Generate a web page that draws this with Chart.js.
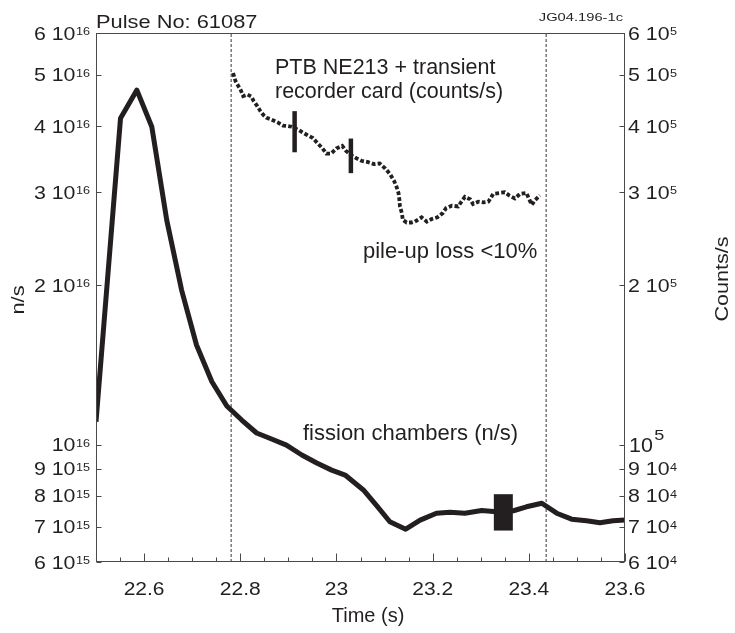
<!DOCTYPE html>
<html>
<head>
<meta charset="utf-8">
<script src="https://cdn.jsdelivr.net/npm/chart.js@4.4.0/dist/chart.umd.min.js"></script>
<style>
  html, body { margin: 0; padding: 0; background: #fff; }
  #wrap { width: 735px; height: 633px; }
</style>
</head>
<body>
<div id="wrap"><canvas id="chart"></canvas></div>
<script>
// fission chambers (n/s), left axis
const fissionTime = [22.500, 22.551, 22.585, 22.616, 22.647, 22.678, 22.709, 22.741, 22.772, 22.803,
  22.834, 22.865, 22.896, 22.928, 22.959, 22.990, 23.018, 23.056, 23.084, 23.111,
  23.144, 23.174, 23.208, 23.236, 23.267, 23.302, 23.333, 23.368, 23.395, 23.427,
  23.458, 23.489, 23.520, 23.548, 23.575, 23.600];
const fissionRate = [1.105e16, 4.14e16, 4.68e16, 3.99e16, 2.66e16, 1.96e16, 1.543e16, 1.315e16, 1.183e16, 1.113e16,
  1.052e16, 1.025e16, 9.98e15, 9.56e15, 9.23e15, 8.95e15, 8.76e15, 8.21e15, 7.66e15, 7.15e15,
  6.92e15, 7.20e15, 7.42e15, 7.45e15, 7.42e15, 7.51e15, 7.47e15, 7.50e15, 7.63e15, 7.75e15,
  7.42e15, 7.23e15, 7.18e15, 7.12e15, 7.18e15, 7.20e15];

// PTB NE213 + transient recorder card (counts/s), right axis
const ptbTime = [22.785, 22.790, 22.795, 22.801, 22.806, 22.815, 22.823, 22.828, 22.835, 22.842,
  22.848, 22.854, 22.864, 22.877, 22.889, 22.899, 22.907, 22.920, 22.930, 22.941,
  22.951, 22.960, 22.970, 22.979, 22.989, 23.000, 23.012, 23.020, 23.030, 23.041,
  23.052, 23.066, 23.078, 23.090, 23.101, 23.111, 23.120, 23.125, 23.129, 23.131,
  23.132, 23.136, 23.138, 23.146, 23.156, 23.163, 23.177, 23.188, 23.198, 23.210,
  23.221, 23.228, 23.240, 23.253, 23.260, 23.267, 23.278, 23.284, 23.295, 23.305,
  23.316, 23.326, 23.338, 23.350, 23.359, 23.371, 23.382, 23.395, 23.406, 23.413, 23.423];
const ptbRate = [5.04e5, 4.87e5, 4.78e5, 4.68e5, 4.56e5, 4.59e5, 4.55e5, 4.46e5, 4.37e5, 4.27e5,
  4.20e5, 4.15e5, 4.12e5, 4.07e5, 4.01e5, 4.00e5, 3.99e5, 3.94e5, 3.89e5, 3.84e5,
  3.80e5, 3.72e5, 3.64e5, 3.55e5, 3.55e5, 3.63e5, 3.67e5, 3.59e5, 3.53e5, 3.48e5,
  3.44e5, 3.42e5, 3.39e5, 3.40e5, 3.33e5, 3.25e5, 3.15e5, 3.07e5, 2.99e5, 2.90e5,
  2.82e5, 2.74e5, 2.66e5, 2.63e5, 2.63e5, 2.64e5, 2.69e5, 2.64e5, 2.67e5, 2.69e5,
  2.74e5, 2.80e5, 2.83e5, 2.82e5, 2.88e5, 2.94e5, 2.91e5, 2.85e5, 2.88e5, 2.87e5,
  2.88e5, 2.98e5, 2.99e5, 3.00e5, 2.96e5, 2.92e5, 2.98e5, 2.99e5, 2.84e5, 2.90e5, 2.96e5];

// error bars
const fissionErrTime = [23.347];
const fissionErrLow = [6.88e15];
const fissionErrHigh = [8.06e15];
const ptbErrTime = [22.913, 23.030];
const ptbErrLow = [3.57e5, 3.26e5];
const ptbErrHigh = [4.27e5, 3.79e5];

// dashed time markers
const markerTimes = [22.781, 23.436];

// axes
const timeMin = 22.5, timeMax = 23.6;
const timeLabels = [22.6, 22.8, 23, 23.2, 23.4, 23.6];
const leftTicks = [6e15, 7e15, 8e15, 9e15, 1e16, 2e16, 3e16, 4e16, 5e16, 6e16];
const rightTicks = [6e4, 7e4, 8e4, 9e4, 1e5, 2e5, 3e5, 4e5, 5e5, 6e5];

const INK = '#231f20';
const FONT = '"Liberation Sans", Arial, Helvetica, sans-serif';

function toPoints(xs, ys) {
  return xs.map((x, i) => ({ x: x, y: ys[i] }));
}

function text(ctx, str, x, y, size, sx, align) {
  ctx.save();
  ctx.font = size + 'px ' + FONT;
  ctx.textAlign = 'left';
  ctx.textBaseline = 'alphabetic';
  const w = ctx.measureText(str).width * sx;
  const x0 = align === 'right' ? x - w : align === 'center' ? x - w / 2 : x;
  ctx.translate(x0, y);
  ctx.scale(sx, 1);
  ctx.fillText(str, 0, 0);
  ctx.restore();
  return w;
}

function vtext(ctx, str, cx, cy, size, sx) {
  ctx.save();
  ctx.font = size + 'px ' + FONT;
  ctx.textAlign = 'center';
  ctx.textBaseline = 'middle';
  ctx.translate(cx, cy);
  ctx.rotate(-Math.PI / 2);
  ctx.scale(sx, 1);
  ctx.fillText(str, 0, 0);
  ctx.restore();
}

function textWidth(ctx, str, size, sx) {
  ctx.save();
  ctx.font = size + 'px ' + FONT;
  const w = ctx.measureText(str).width * sx;
  ctx.restore();
  return w;
}

function splitPow(v) {
  const e = Math.floor(Math.log10(v) + 1e-9);
  const m = Math.round(v / Math.pow(10, e));
  return { main: m === 1 ? '10' : m + ' 10', exp: String(e), plain: m === 1 };
}

const frame = {
  id: 'frame',
  afterDatasetsDraw(chart) {
    const { ctx, chartArea: a, scales } = chart;
    const L = Math.round(a.left) + 0.5, R = Math.round(a.right) - 0.5;
    const T = Math.round(a.top) + 0.5, B = Math.round(a.bottom) - 0.5;

    ctx.save();
    ctx.strokeStyle = '#4a4a4a';
    ctx.lineWidth = 1;
    ctx.strokeRect(L, T, R - L, B - T);

    // x ticks, inward
    ctx.beginPath();
    for (let k = 1; k <= 22; k++) {
      const t = timeMin + k * 0.05;
      const x = Math.round(scales.x.getPixelForValue(t)) + 0.5;
      const major = timeLabels.some(v => Math.abs(v - t) < 1e-6);
      ctx.moveTo(x, B);
      ctx.lineTo(x, B - (major ? 8 : 4));
    }
    // y ticks, inward
    leftTicks.forEach(v => {
      const y = Math.round(scales.y.getPixelForValue(v)) + 0.5;
      ctx.moveTo(L, y); ctx.lineTo(L + 5, y);
    });
    rightTicks.forEach(v => {
      const y = Math.round(scales.y2.getPixelForValue(v)) + 0.5;
      ctx.moveTo(R, y); ctx.lineTo(R - 5, y);
    });
    ctx.stroke();

    ctx.fillStyle = INK;

    // left tick labels
    leftTicks.forEach(v => {
      const y = scales.y.getPixelForValue(v);
      const p = splitPow(v);
      const ws = textWidth(ctx, p.exp, 11.5, 1.1);
      text(ctx, p.exp, 90 - ws, y + 2, 11.5, 1.1, 'left');
      text(ctx, p.main, 90 - ws - 0.5, y + 6.5, 17.5, 1.22, 'right');
    });

    // right tick labels
    rightTicks.forEach(v => {
      const y = scales.y2.getPixelForValue(v);
      const p = splitPow(v);
      if (p.plain) {
        const w = text(ctx, p.main, 629, y + 7, 19.5, 1.1, 'left');
        text(ctx, p.exp, 629 + w + 1.5, y - 5, 15, 1.2, 'left');
      } else {
        const w = text(ctx, p.main, 628, y + 6.5, 17.5, 1.22, 'left');
        text(ctx, p.exp, 628 + w + 0.5, y + 2, 11.5, 1.1, 'left');
      }
    });

    // x tick labels
    timeLabels.forEach(v => {
      const x = scales.x.getPixelForValue(v);
      text(ctx, String(v), x, 594.5, 17.5, 1.2, 'center');
    });

    // axis titles
    text(ctx, 'Time (s)', 368, 622, 20, 1.0, 'center');
    vtext(ctx, 'n/s', 19, 300, 17.5, 1.25);
    vtext(ctx, 'Counts/s', 723.5, 279, 18, 1.2);

    // header
    text(ctx, 'Pulse No: 61087', 96, 28, 18.5, 1.18, 'left');
    text(ctx, 'JG04.196-1c', 623, 21, 10.5, 1.4, 'right');

    // annotations
    text(ctx, 'PTB NE213 + transient', 275, 74, 21.5, 1.0, 'left');
    text(ctx, 'recorder card (counts/s)', 275, 97.5, 21.5, 1.0, 'left');
    text(ctx, 'pile-up loss <10%', 363, 258, 22, 1.0, 'left');
    text(ctx, 'fission chambers (n/s)', 303, 439.5, 22, 1.0, 'left');

    ctx.restore();
  }
};

const datasets = [
  {
    label: 'fission chambers (n/s)',
    data: toPoints(fissionTime, fissionRate),
    yAxisID: 'y',
    borderColor: INK,
    borderWidth: 5,
    borderJoinStyle: 'round',
    pointRadius: 0,
    tension: 0
  },
  {
    label: 'PTB NE213 + transient recorder card (counts/s)',
    data: toPoints(ptbTime, ptbRate),
    yAxisID: 'y2',
    borderColor: INK,
    borderWidth: 3.8,
    borderDash: [3.8, 2.2],
    borderCapStyle: 'butt',
    pointRadius: 0,
    tension: 0
  }
];

fissionErrTime.forEach((t, i) => {
  datasets.push({
    data: [{ x: t, y: fissionErrLow[i] }, { x: t, y: fissionErrHigh[i] }],
    yAxisID: 'y', borderColor: INK, borderWidth: 19, borderCapStyle: 'butt', pointRadius: 0
  });
});
ptbErrTime.forEach((t, i) => {
  datasets.push({
    data: [{ x: t, y: ptbErrLow[i] }, { x: t, y: ptbErrHigh[i] }],
    yAxisID: 'y2', borderColor: INK, borderWidth: 4.5, borderCapStyle: 'butt', pointRadius: 0
  });
});
markerTimes.forEach(t => {
  datasets.push({
    data: [{ x: t, y: leftTicks[0] }, { x: t, y: leftTicks[leftTicks.length - 1] }],
    yAxisID: 'y', borderColor: '#333', borderWidth: 1, borderDash: [3, 2], pointRadius: 0
  });
});

new Chart(document.getElementById('chart'), {
  type: 'line',
  data: { datasets: datasets },
  options: {
    responsive: true,
    maintainAspectRatio: false,
    animation: false,
    layout: { padding: { left: 96, right: 110, top: 33, bottom: 71 } },
    plugins: { legend: { display: false }, tooltip: { enabled: false } },
    scales: {
      x: { type: 'linear', min: timeMin, max: timeMax, display: false },
      y: { type: 'logarithmic', min: leftTicks[0], max: leftTicks[leftTicks.length - 1], display: false },
      y2: { type: 'logarithmic', position: 'right', min: rightTicks[0], max: rightTicks[rightTicks.length - 1], display: false }
    }
  },
  plugins: [frame]
});
</script>
</body>
</html>
